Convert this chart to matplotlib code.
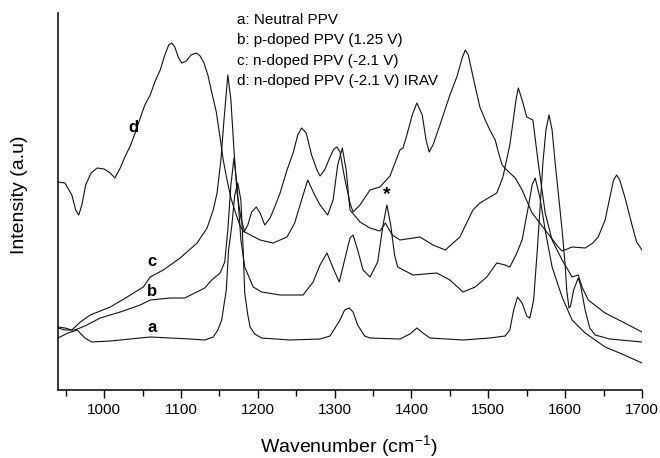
import matplotlib
matplotlib.use('Agg')
import matplotlib.pyplot as plt
import numpy as np

plt.rcParams.update({'font.family': 'Liberation Sans',
                     'mathtext.fontset': 'custom',
                     'mathtext.rm': 'Liberation Sans',
                     'mathtext.it': 'Liberation Sans:italic',
                     'mathtext.bf': 'Liberation Sans:bold'})

# spectra (wavenumber in cm-1, intensity in arbitrary units)
wn_a = [940, 953, 965, 975, 984, 1008, 1034, 1060, 1086, 1112, 1131, 1142, 1148, 1153,
        1159, 1162, 1166, 1170, 1174, 1178, 1181, 1183, 1187, 1190, 1196, 1205, 1242,
        1281, 1294, 1307, 1313, 1319, 1324, 1330, 1339, 1346, 1385, 1398, 1407, 1415,
        1424, 1467, 1502, 1522, 1528, 1533, 1538, 1544, 1550, 1554, 1559, 1564, 1568,
        1571, 1575, 1579, 1583, 1587, 1592, 1596, 1600, 1602, 1605, 1607, 1611, 1617,
        1620, 1626, 1632, 1639, 1658, 1700]
int_a = [52, 57, 60, 52, 48, 49, 51, 53, 52, 51, 50, 53, 60, 70,
         100, 140, 163, 195, 207, 190, 140, 97, 75, 63, 56, 52, 50,
         51, 54, 70, 80, 82, 78, 65, 54, 52, 51, 56, 62, 57,
         52, 50, 52, 54, 60, 80, 93, 87, 74, 72, 90, 143, 190,
         227, 260, 275, 260, 227, 190, 160, 125, 100, 82, 84, 100, 112,
         105, 80, 62, 55, 51, 48]

wn_b = [940, 949, 962, 975, 995, 1021, 1047, 1060, 1086, 1105, 1118, 1131, 1140, 1151,
        1157, 1161, 1165, 1169, 1173, 1178, 1183, 1194, 1205, 1229, 1259, 1272, 1281,
        1290, 1298, 1306, 1313, 1320, 1324, 1330, 1337, 1346, 1356, 1363, 1368, 1373,
        1378, 1382, 1402, 1433, 1450, 1467, 1483, 1498, 1511, 1522, 1528, 1536, 1544,
        1552, 1557, 1561, 1567, 1574, 1583, 1596, 1609, 1626, 1652, 1671, 1700]
int_b = [62, 60, 60, 64, 72, 78, 85, 90, 92, 92, 97, 102, 110, 117,
         128, 160, 205, 232, 205, 150, 123, 103, 98, 95, 95, 108, 125,
         137, 122, 108, 130, 152, 155, 140, 120, 113, 128, 165, 185, 165,
         135, 123, 115, 117, 110, 98, 103, 113, 127, 125, 123, 135, 150,
         183, 205, 212, 193, 160, 123, 93, 70, 57, 43, 37, 27]

wn_c = [940, 949, 958, 969, 982, 1008, 1030, 1051, 1060, 1077, 1099, 1121, 1134, 1142,
        1147, 1152, 1156, 1161, 1165, 1169, 1173, 1178, 1183, 1203, 1220, 1238, 1248,
        1255, 1265, 1274, 1281, 1291, 1298, 1304, 1310, 1315, 1320, 1333, 1346, 1359,
        1366, 1375, 1385, 1411, 1428, 1444, 1463, 1480, 1489, 1511, 1519, 1528, 1536,
        1539, 1544, 1550, 1558, 1565, 1574, 1583, 1596, 1609, 1617, 1622, 1630, 1652,
        1675, 1700]
int_c = [63, 62, 60, 68, 75, 83, 93, 103, 113, 120, 132, 147, 162, 180,
         197, 230, 270, 315, 290, 240, 197, 172, 158, 150, 147, 153, 167,
         185, 210, 195, 185, 175, 190, 225, 242, 220, 180, 168, 162, 159,
         167, 155, 150, 153, 145, 140, 153, 180, 187, 197, 213, 245, 290,
         302, 290, 273, 270, 227, 177, 150, 130, 113, 115, 103, 90, 77,
         68, 58]

wn_d = [940, 949, 958, 963, 967, 971, 976, 983, 991, 1000, 1008, 1014, 1021, 1027,
        1034, 1040, 1047, 1053, 1060, 1066, 1073, 1079, 1084, 1088, 1092, 1097, 1101,
        1107, 1113, 1120, 1125, 1130, 1135, 1140, 1146, 1151, 1155, 1160, 1165, 1172,
        1177, 1182, 1187, 1192, 1198, 1203, 1209, 1216, 1222, 1229, 1238, 1246, 1252,
        1257, 1263, 1270, 1277, 1281, 1287, 1294, 1299, 1303, 1307, 1313, 1320, 1324,
        1333, 1346, 1359, 1372, 1381, 1385, 1389, 1394, 1401, 1407, 1414, 1419, 1423,
        1428, 1437, 1450, 1459, 1466, 1470, 1474, 1481, 1489, 1496, 1502, 1509, 1513,
        1518, 1524, 1535, 1544, 1557, 1574, 1591, 1596, 1609, 1626, 1636, 1643, 1652,
        1658, 1663, 1667, 1671, 1678, 1687, 1693, 1700]
int_d = [208, 207, 195, 180, 175, 185, 205, 217, 222, 221, 217, 212, 222, 233,
         244, 256, 272, 285, 295, 308, 320, 335, 345, 347, 343, 332, 327,
         329, 335, 337, 334, 327, 315, 298, 278, 252, 230, 210, 192, 175,
         164, 158, 165, 178, 183, 177, 165, 172, 183, 197, 220, 237, 255,
         262, 257, 235, 220, 214, 220, 233, 241, 243, 238, 212, 187, 178,
         185, 200, 203, 214, 232, 240, 242, 255, 275, 287, 275, 250, 238,
         245, 265, 295, 313, 332, 340, 335, 310, 283, 270, 260, 250, 238,
         225, 220, 212, 200, 177, 160, 143, 139, 143, 142, 147, 153, 170,
         192, 210, 215, 210, 192, 165, 148, 140]

legend_lines = ['a: Neutral PPV', 'b: p-doped PPV (1.25 V)',
                'c: n-doped PPV (-2.1 V)', 'd: n-doped PPV (-2.1 V) IRAV']

fig = plt.figure(figsize=(6.6, 4.58), dpi=100)
ax = fig.add_axes([58 / 660, 1 - 390 / 458, 584 / 660, 377 / 458])

line_kw = dict(color='#111111', linewidth=0.8)
ax.plot(wn_a, int_a, **line_kw)
ax.plot(wn_b, int_b, **line_kw)
ax.plot(wn_c, int_c, **line_kw)
ax.plot(wn_d, int_d, **line_kw)

ax.set_xlim(940, 1700)
ax.set_ylim(0, 377)
ax.set_xticks(np.arange(1000, 1701, 100))
ax.set_xticks(np.arange(950, 1701, 100), minor=True)
ax.set_yticks([])
ax.tick_params(axis='x', which='major', direction='out', length=6, width=1.0,
               labelsize=11, pad=3)
ax.tick_params(axis='x', which='minor', direction='out', length=4, width=1.0)
for side in ['top', 'right']:
    ax.spines[side].set_visible(False)
for side in ['left', 'bottom']:
    ax.spines[side].set_linewidth(1.1)

# curve labels
ax.text(1038, 262, 'd', fontsize=12, fontweight='bold', ha='center', va='center')
ax.text(1062, 128, 'c', fontsize=12, fontweight='bold', ha='center', va='center')
ax.text(1062, 98, 'b', fontsize=12, fontweight='bold', ha='center', va='center')
ax.text(1062, 63, 'a', fontsize=12, fontweight='bold', ha='center', va='center')
ax.text(1368, 195, '*', fontsize=14, fontweight='bold', ha='center', va='center')

for i, s in enumerate(legend_lines):
    ax.text(1173, 370 - 20.3 * i, s, fontsize=11, ha='left', va='center')

fig.text(20 / 660, 1 - 195 / 458, 'Intensity (a.u)', rotation=90,
         fontsize=14, ha='center', va='center')
fig.text(349 / 660, 1 - 446 / 458, r'Wavenumber (cm$^{-1}$)',
         fontsize=14, ha='center', va='center')

fig.savefig('out.png', dpi=100)
